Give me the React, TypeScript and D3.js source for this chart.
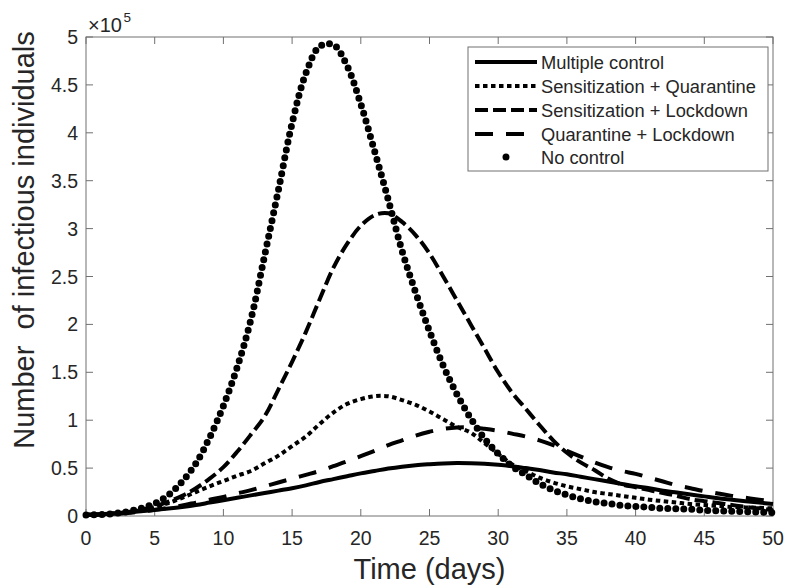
import React from 'react';
import * as d3 from 'd3';

// Time axis (days)
const days = d3.range(0, 51);

// Infectious individuals (x 1e5) read at 1-day steps
const multipleControl = [
  0.012, 0.018, 0.027, 0.037, 0.049, 0.063, 0.078, 0.095, 0.115, 0.14,
  0.165, 0.19, 0.215, 0.24, 0.265, 0.29, 0.32, 0.355, 0.385, 0.415,
  0.445, 0.47, 0.495, 0.515, 0.53, 0.54, 0.548, 0.552, 0.55, 0.545,
  0.535, 0.52, 0.5, 0.48, 0.455, 0.435, 0.41, 0.385, 0.36, 0.335,
  0.31, 0.29, 0.265, 0.245, 0.225, 0.205, 0.185, 0.17, 0.155, 0.14, 0.125,
];
const sensQuarantine = [
  0.012, 0.016, 0.025, 0.04, 0.06, 0.095, 0.135, 0.19, 0.25, 0.31,
  0.365, 0.42, 0.47, 0.55, 0.63, 0.73, 0.83, 0.96, 1.08, 1.17,
  1.22, 1.25, 1.25, 1.21, 1.16, 1.09, 1.01, 0.93, 0.87, 0.76,
  0.65, 0.54, 0.47, 0.4, 0.35, 0.31, 0.28, 0.25, 0.23, 0.21,
  0.19, 0.17, 0.155, 0.14, 0.125, 0.115, 0.105, 0.095, 0.09, 0.085, 0.08,
];
const sensLockdown = [
  0.012, 0.016, 0.025, 0.04, 0.065, 0.1, 0.15, 0.21, 0.29, 0.39,
  0.51, 0.67, 0.85, 1.04, 1.32, 1.61, 1.92, 2.26, 2.59, 2.84,
  3.03, 3.14, 3.16, 3.07, 2.93, 2.74, 2.5, 2.25, 2.0, 1.75,
  1.5, 1.29, 1.12, 0.95, 0.79, 0.66, 0.56, 0.48, 0.39, 0.33,
  0.3, 0.27, 0.24, 0.21, 0.175, 0.155, 0.135, 0.115, 0.095, 0.08, 0.06,
];
const quarLockdown = [
  0.012, 0.015, 0.02, 0.03, 0.045, 0.065, 0.085, 0.11, 0.14, 0.17,
  0.2, 0.235, 0.27, 0.31, 0.35, 0.39, 0.43, 0.47, 0.52, 0.57,
  0.625, 0.68, 0.74, 0.79, 0.84, 0.88, 0.91, 0.925, 0.925, 0.91,
  0.89, 0.86, 0.83, 0.79, 0.74, 0.68, 0.62, 0.56, 0.51, 0.47,
  0.44, 0.4, 0.36, 0.32, 0.29, 0.26, 0.235, 0.21, 0.19, 0.17, 0.15,
];
const noControl = [
  0.01, 0.015, 0.025, 0.045, 0.08, 0.13, 0.22, 0.36, 0.55, 0.82,
  1.15, 1.55, 2.05, 2.72, 3.4, 4.1, 4.62, 4.9, 4.92, 4.7,
  4.3, 3.81, 3.3, 2.77, 2.33, 1.93, 1.57, 1.27, 1.02, 0.81,
  0.65, 0.52, 0.43, 0.34, 0.27, 0.22, 0.18, 0.15, 0.13, 0.11,
  0.1, 0.09, 0.08, 0.075, 0.07, 0.06, 0.055, 0.05, 0.045, 0.04, 0.035,
];

const seriesNames = [
  'Multiple control',
  'Sensitization + Quarantine',
  'Sensitization + Lockdown',
  'Quarantine + Lockdown',
  'No control',
];

const xTicks = [0, 5, 10, 15, 20, 25, 30, 35, 40, 45, 50];
const yTicks = [0, 0.5, 1, 1.5, 2, 2.5, 3, 3.5, 4, 4.5, 5];
const yTickLabels = ['0', '0.5', '1', '1.5', '2', '2.5', '3', '3.5', '4', '4.5', '5'];

const FONT = '"Liberation Sans", Arial, Helvetica, sans-serif';
const TXT = '#262626';
const AX = '#707070';

export default function App() {
  const left = 86, right = 773, top = 37, bottom = 516;
  const x = d3.scaleLinear().domain([0, 50]).range([left, right]);
  const y = d3.scaleLinear().domain([0, 5]).range([bottom, top]);
  const line = d3
    .line<number>()
    .x((_, i) => x(days[i]))
    .y((d) => y(d))
    .curve(d3.curveCatmullRom.alpha(0.5));

  const styles = [
    { data: multipleControl, dash: undefined as string | undefined, cap: 'butt', w: 4 },
    { data: sensQuarantine, dash: '4.5 3.5', cap: 'butt', w: 4 },
    { data: sensLockdown, dash: '13 5', cap: 'butt', w: 4 },
    { data: quarLockdown, dash: '18 13', cap: 'butt', w: 4 },
    { data: noControl, dash: '0 8', cap: 'round', w: 7 },
  ];

  const tickLen = 7;
  const legX = 468, legY = 47, legW = 300, legH = 124;
  const legRows = [62, 86, 110, 134, 157];

  return (
    <svg
      width={786}
      height={588}
      style={{ position: 'absolute', left: 0, top: 0, background: '#fff' }}
      fontFamily={FONT}
    >
      <rect x={0} y={0} width={786} height={588} fill="#fff" />
      {/* ticks */}
      {xTicks.map((t) => (
        <g key={'xt' + t}>
          <line x1={x(t)} x2={x(t)} y1={bottom} y2={bottom - tickLen} stroke={AX} strokeWidth={1} />
          <line x1={x(t)} x2={x(t)} y1={top} y2={top + tickLen} stroke={AX} strokeWidth={1} />
          <text x={x(t)} y={545} textAnchor="middle" fontSize={19.5} fill={TXT}>
            {t}
          </text>
        </g>
      ))}
      {yTicks.map((t, i) => (
        <g key={'yt' + t}>
          <line x1={left} x2={left + tickLen} y1={y(t)} y2={y(t)} stroke={AX} strokeWidth={1} />
          <line x1={right} x2={right - tickLen} y1={y(t)} y2={y(t)} stroke={AX} strokeWidth={1} />
          <text x={78} y={y(t) + 7} textAnchor="end" fontSize={19.5} fill={TXT}>
            {yTickLabels[i]}
          </text>
        </g>
      ))}
      <rect x={left} y={top} width={right - left} height={bottom - top} fill="none" stroke={AX} strokeWidth={1} />
      {/* exponent */}
      <text x={88} y={32} fontSize={20} fill={TXT}>
        ×10
      </text>
      <text x={123.5} y={22} fontSize={13.5} fill={TXT}>
        5
      </text>
      {/* series */}
      {styles.map((s, i) => (
        <path
          key={'s' + i}
          d={line(s.data) || ''}
          fill="none"
          stroke="#000"
          strokeWidth={s.w}
          strokeDasharray={s.dash}
          strokeLinecap={s.cap as any}
          strokeLinejoin="round"
        />
      ))}
      {/* axis labels */}
      <text x={(left + right) / 2} y={579} textAnchor="middle" fontSize={29} fill={TXT}>
        Time (days)
      </text>
      <text
        transform={`translate(34, 240) rotate(-90)`}
        textAnchor="middle"
        fontSize={29}
        fill={TXT}
        style={{ whiteSpace: 'pre' }}
      >
        {'Number  of infectious individuals'}
      </text>
      {/* legend */}
      <rect x={legX} y={legY} width={legW} height={legH} fill="#fff" stroke={AX} strokeWidth={1} />
      {seriesNames.map((name, i) => {
        const s = styles[i];
        const ly = legRows[i];
        return (
          <g key={'lg' + i}>
            {i < 4 ? (
              <line
                x1={475}
                x2={537}
                y1={ly}
                y2={ly}
                stroke="#000"
                strokeWidth={s.w}
                strokeDasharray={s.dash}
              />
            ) : (
              <circle cx={506} cy={ly} r={3.5} fill="#000" />
            )}
            <text x={541} y={ly + 6.5} fontSize={18.3} fill={TXT}>
              {name}
            </text>
          </g>
        );
      })}
    </svg>
  );
}
